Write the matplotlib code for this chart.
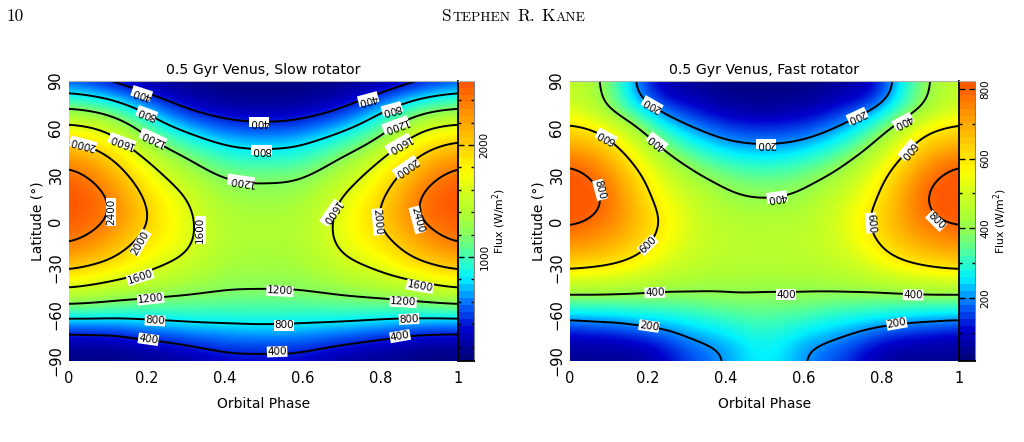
import matplotlib
matplotlib.use("Agg")
import matplotlib.pyplot as plt
import matplotlib.tri as mtri
import numpy as np
from matplotlib.colors import LinearSegmentedColormap
from matplotlib.ticker import MultipleLocator

# latitude rows (deg) and orbital phase columns of the flux tables
LATITUDES = [90, 80, 70, 60, 50, 40, 30, 15, 0, -15, -30, -40, -50, -60, -70, -80, -90]
HALF_PHASES = [0.0, 0.1, 0.2, 0.3, 0.4, 0.5]

# flux in W/m2, one list per phase from 0 to 0.5, the second half of the orbit mirrors it
SLOW_P00 = [480, 880, 1300, 1680, 2040, 2300, 2470, 2590, 2540, 2400, 2050, 1710, 1340, 930, 480, 180, 90]
SLOW_P01 = [320, 740, 1130, 1500, 1790, 2050, 2220, 2400, 2380, 2200, 1880, 1570, 1270, 900, 510, 190, 90]
SLOW_P02 = [180, 450, 770, 1060, 1320, 1580, 1770, 1960, 2010, 1880, 1650, 1450, 1200, 900, 590, 290, 120]
SLOW_P03 = [100, 250, 450, 730, 980, 1220, 1400, 1600, 1670, 1640, 1490, 1340, 1160, 930, 650, 390, 170]
SLOW_P04 = [75, 140, 300, 540, 780, 980, 1170, 1340, 1410, 1410, 1340, 1260, 1130, 930, 700, 470, 290]
SLOW_P05 = [72, 120, 260, 480, 730, 920, 1130, 1290, 1370, 1370, 1320, 1250, 1120, 940, 720, 490, 300]

FAST_P00 = [470, 480, 530, 615, 690, 775, 825, 860, 815, 740, 615, 490, 370, 240, 130, 60, 40]
FAST_P01 = [360, 370, 420, 540, 620, 690, 740, 780, 760, 700, 585, 480, 370, 250, 150, 70, 40]
FAST_P02 = [130, 160, 250, 350, 440, 510, 570, 615, 640, 605, 530, 450, 370, 270, 180, 100, 60]
FAST_P03 = [45, 80, 140, 215, 290, 370, 430, 495, 520, 510, 470, 430, 375, 290, 225, 170, 140]
FAST_P04 = [25, 40, 85, 150, 215, 290, 360, 420, 455, 465, 450, 420, 385, 320, 265, 215, 205]
FAST_P05 = [20, 30, 70, 130, 195, 265, 335, 400, 445, 455, 445, 420, 385, 335, 295, 265, 255]

SLOW_LEVELS = [400, 800, 1200, 1600, 2000, 2400]
FAST_LEVELS = [200, 400, 600, 800]
SLOW_RANGE = (72, 2571)
FAST_RANGE = (19, 823)

# contour label: value, phase, latitude, text angle
SLOW_LABELS = [
    (400, .187, 82, 162), (400, .489, 63.6, 180), (400, .769, 78.4, 195),
    (800, .200, 69, 160), (800, .495, 45.6, 180), (800, .830, 72, 195),
    (1200, .216, 53.3, 155), (1200, .442, 25.8, 172), (1200, .840, 61.7, 200),
    (1600, .136, 51, 160), (1600, .848, 49.5, 210), (1600, .674, 5.2, 235), (1600, .337, -5.8, 90),
    (2000, .036, 49.5, 165), (2000, .866, 34.7, 215), (2000, .794, -0.6, -85), (2000, .183, -14, 60),
    (2400, .108, 5.8, 90), (2400, .895, 0.7, -75),
    (1600, .183, -36, 18), (1600, .902, -42, -10),
    (1200, .210, -50, 6), (1200, .542, -45, -3), (1200, .859, -52, -3),
    (800, .221, -64, -3), (800, .553, -67, 0), (800, .874, -63, 3),
    (400, .204, -76, -8), (400, .535, -84, 2), (400, .851, -74, 10),
]
FAST_LABELS = [
    (200, .211, 74.6, 150), (200, .504, 49.5, 180), (200, .738, 67.5, 205),
    (400, .224, 50.8, 142), (400, .532, 15.4, 188), (400, .856, 64, 208),
    (600, .093, 54, 152), (600, .869, 45.6, 230), (600, .774, -1.3, -85), (600, .200, -15.4, 45),
    (800, .077, 20, -75), (800, .941, 0, -45),
    (400, .218, -46, 2), (400, .555, -47.5, 0), (400, .882, -47.5, -1),
    (200, .203, -67.5, -8), (200, .840, -66, 10),
]

FONT = "DejaVu Sans"

flux_map = LinearSegmentedColormap.from_list("flux", [
    (0.00, (0.00, 0.00, 0.50)),
    (0.10, (0.00, 0.00, 0.80)),
    (0.20, (0.00, 0.45, 1.00)),
    (0.29, (0.00, 0.95, 1.00)),
    (0.37, (0.25, 1.00, 0.70)),
    (0.45, (0.52, 1.00, 0.38)),
    (0.52, (0.68, 1.00, 0.20)),
    (0.60, (0.82, 1.00, 0.12)),
    (0.68, (1.00, 1.00, 0.00)),
    (0.84, (1.00, 0.70, 0.00)),
    (1.00, (1.00, 0.35, 0.00)),
])


def soften(field, sigma=9):
    """ Gaussian pass over both grid axes, edges padded so the borders keep their values """
    reach = int(3 * sigma)
    kernel = np.exp(-0.5 * (np.arange(-reach, reach + 1) / sigma) ** 2)
    kernel /= kernel.sum()
    for axis in (0, 1):
        pad = [(0, 0), (0, 0)]
        pad[axis] = (reach, reach)
        padded = np.pad(field, pad, mode="edge")
        field = np.apply_along_axis(lambda row: np.convolve(row, kernel, mode="valid"), axis, padded)
    return field


def fine_field(columns):
    """ Full orbit flux table smoothed onto a fine phase/latitude grid """
    half = np.array(columns, dtype=float).T
    table = np.hstack([half, half[:, -2::-1]])
    phases = np.r_[HALF_PHASES, 1 - np.array(HALF_PHASES[-2::-1])]
    px, py = np.meshgrid(phases, np.array(LATITUDES) / 90.0)
    triang = mtri.Triangulation(px.ravel(), py.ravel())
    interp = mtri.CubicTriInterpolator(triang, table.ravel(), kind="min_E")
    fx, fy = np.meshgrid(np.linspace(0, 1, 390), np.linspace(1, -1, 281))
    return fx, fy * 90, soften(np.ma.filled(interp(fx, fy), np.nan))


def draw_panel(left, columns, levels, labels, value_range, title, major, minor):
    ax = fig.add_axes([left / 1024, 1 - 361 / 442, 389 / 1024, 280 / 442])
    fx, fy, field = fine_field(columns)
    ax.imshow(field, extent=[0, 1, -90, 90], aspect="auto", cmap=flux_map,
              vmin=value_range[0], vmax=value_range[1], interpolation="bilinear")
    ax.contour(fx, fy, field, levels=levels, colors="black", linewidths=1.4)
    for value, phase, lat, angle in labels:
        ax.text(phase, lat, str(value), rotation=angle, rotation_mode="anchor",
                ha="center", va="center", fontsize=7.5, family=FONT,
                bbox=dict(facecolor="white", edgecolor="none", pad=0.3))

    for spine in ax.spines.values():
        spine.set_visible(False)
    ax.spines["top"].set_visible(True)
    ax.spines["top"].set_color("#b0b0b0")
    ax.set_xlim(0, 1)
    ax.set_ylim(-90, 90)
    ax.set_xticks([0, 0.2, 0.4, 0.6, 0.8, 1])
    ax.set_xticklabels(["0", "0.2", "0.4", "0.6", "0.8", "1"], family=FONT, fontsize=10.5)
    ax.set_yticks([-90, -60, -30, 0, 30, 60, 90])
    ax.set_yticklabels(["\u221290", "\u221260", "\u221230", "0", "30", "60", "90"],
                       family=FONT, fontsize=10.5, rotation=90, va="center")
    ax.tick_params(axis="x", length=0, pad=7)
    ax.tick_params(axis="y", length=0, pad=4)
    ax.set_xlabel("Orbital Phase", family=FONT, fontsize=10, labelpad=8)
    ax.set_ylabel("Latitude (\u00b0)", family=FONT, fontsize=10, labelpad=3)
    ax.set_title(title, family=FONT, fontsize=10.2, pad=5)

    # colour bar with ticks on both edges
    bar = fig.add_axes([(left + 389) / 1024, 1 - 361 / 442, 16 / 1024, 280 / 442])
    steps = np.linspace(value_range[1], value_range[0], 40)[:, None]
    bar.imshow(steps, extent=[0, 1, value_range[0], value_range[1]], aspect="auto",
               cmap=flux_map, vmin=value_range[0], vmax=value_range[1], interpolation="nearest")
    bar.set_xticks([])
    bar.yaxis.set_major_locator(MultipleLocator(major))
    bar.yaxis.set_minor_locator(MultipleLocator(minor))
    bar.tick_params(which="major", left=True, right=True, labelleft=False, labelright=True,
                    direction="in", length=4.5, width=1, pad=4)
    bar.tick_params(which="minor", left=True, right=True, direction="in", length=2.5, width=1)
    for tick in bar.get_yticklabels():
        tick.set_rotation(90)
        tick.set_va("center")
        tick.set_family(FONT)
        tick.set_fontsize(7.5)
    bar.spines["left"].set_linewidth(1.3)
    bar.spines["bottom"].set_linewidth(1.3)
    bar.spines["right"].set_color("#808080")
    bar.spines["top"].set_color("#b0b0b0")
    fig.text((left + 430) / 1024, 1 - 221 / 442, "Flux (W/m$^2$)", rotation=90, ha="center",
             va="center", family=FONT, fontsize=7.8, math_fontfamily="dejavusans")


fig = plt.figure(figsize=(10.24, 4.42), dpi=100)

draw_panel(69, [SLOW_P00, SLOW_P01, SLOW_P02, SLOW_P03, SLOW_P04, SLOW_P05], SLOW_LEVELS,
           SLOW_LABELS, SLOW_RANGE, "0.5 Gyr Venus, Slow rotator", 1000, 200)
draw_panel(570, [FAST_P00, FAST_P01, FAST_P02, FAST_P03, FAST_P04, FAST_P05], FAST_LEVELS,
           FAST_LABELS, FAST_RANGE, "0.5 Gyr Venus, Fast rotator", 200, 100)

# running head of the page
fig.text(7 / 1024, 1 - 21 / 442, "10", family="cmr10", fontsize=12.5)
head_x = 442
fig.canvas.draw()
for piece, size, gap in [("S", 12.5, 0), ("TEPHEN", 9.8, 6), ("R.", 12.5, 5), ("K", 12.5, 0), ("ANE", 9.8, 0)]:
    txt = fig.text(head_x / 1024, 1 - 21 / 442, piece, family="cmr10", fontsize=size)
    head_x = txt.get_window_extent().x1 + 1 + gap

fig.savefig("out.png", dpi=100)
